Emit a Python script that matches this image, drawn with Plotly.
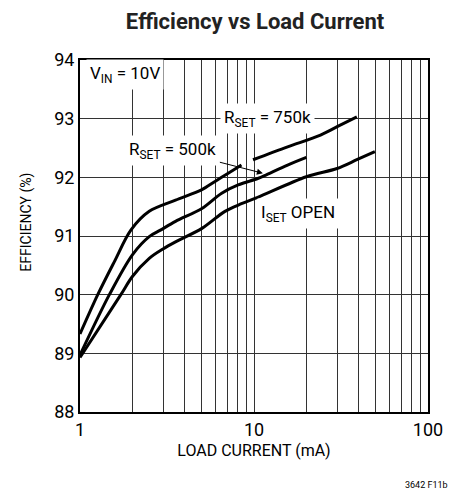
import plotly.graph_objects as go

# load current (mA) and efficiency (%)
rset_750k_x = [1, 1.265, 1.574, 1.96, 2.5, 3.54, 5.02, 5.97, 7.11, 8.47, None, 9.87, 15.6, 24.1, 31.3, 39]
rset_750k_y = [89.33, 90.0, 90.56, 91.1, 91.42, 91.61, 91.79, 91.93, 92.07, 92.21, None, 92.3, 92.52, 92.72, 92.89, 93.03]

rset_500k_x = [1, 1.475, 2.0, 2.5, 2.9, 3.54, 5.02, 6.52, 8.11, 10.5, 11.5, 15.6, 20]
rset_500k_y = [88.97, 90.0, 90.68, 90.99, 91.1, 91.25, 91.47, 91.73, 91.87, 91.98, 92.03, 92.21, 92.34]

iset_open_x = [1, 1.717, 2.0, 2.5, 3.0, 3.54, 5.02, 6.81, 8.47, 10.5, 20, 30, 39, 49.5]
iset_open_y = [88.93, 90.0, 90.31, 90.62, 90.78, 90.9, 91.13, 91.42, 91.55, 91.66, 92.01, 92.15, 92.3, 92.44]

x_ticks = [1, 10, 100]
x_minor_grid = [2, 3, 4, 5, 6, 7, 8, 9, 20, 30, 40, 50, 60, 70, 80, 90]
y_ticks = [88, 89, 90, 91, 92, 93, 94]

FONT = "Roboto, Liberation Sans, Arial, sans-serif"

fig = go.Figure()
for xs, ys in [(rset_750k_x, rset_750k_y), (rset_500k_x, rset_500k_y), (iset_open_x, iset_open_y)]:
    fig.add_trace(go.Scatter(
        x=xs, y=ys, mode="lines",
        line=dict(color="black", width=3, shape="spline", smoothing=0.9),
        connectgaps=False, showlegend=False, hoverinfo="skip",
    ))

fig.update_layout(
    width=455, height=491,
    margin=dict(l=80, r=23, t=60, b=79),
    paper_bgcolor="white", plot_bgcolor="white",
    font=dict(family=FONT, color="black", size=16),
    title=dict(
        text="<b>Efficiency vs Load Current</b>",
        x=255 / 455, xanchor="center", y=1 - 21 / 491, yanchor="middle",
        font=dict(size=22, family=FONT, color="#222"),
    ),
)
fig.update_xaxes(
    type="log", range=[0, 2],
    tickvals=x_ticks, ticktext=[str(v) for v in x_ticks], ticks="",
    showgrid=True, gridcolor="#333", gridwidth=1,
    minor=dict(tickvals=x_minor_grid, showgrid=True, gridcolor="#333", gridwidth=1, ticks=""),
    showline=True, linecolor="black", linewidth=2, mirror=True,
    tickfont=dict(size=18), zeroline=False,
    title=dict(text="LOAD CURRENT (mA)", font=dict(size=16), standoff=6),
)
fig.update_yaxes(
    range=[88, 94], tickvals=y_ticks, ticks="",
    showgrid=True, gridcolor="#333", gridwidth=1,
    showline=True, linecolor="black", linewidth=2, mirror=True,
    tickfont=dict(size=18), zeroline=False,
)

# y title placed by hand: it sits a little above the plot centre in the original
fig.add_annotation(
    x=(25 - 80) / 352, y=(412 - 222) / 352, xref="paper", yref="paper",
    text="EFFICIENCY (%)", textangle=-90, showarrow=False,
    xanchor="center", yanchor="middle", font=dict(size=14, family=FONT, color="black"),
)

label_font = dict(size=17, family=FONT, color="black")
fig.add_annotation(
    x=0.261, y=93.75, xref="x", yref="y", showarrow=False,
    text="V<sub>IN</sub> = 10V", bgcolor="white", borderpad=3, font=label_font,
)
fig.add_annotation(
    x=1.075, y=93.0, xref="x", yref="y", showarrow=False,
    text="R<sub>SET</sub> = 750k", bgcolor="white", borderpad=3, font=label_font,
)
fig.add_annotation(
    x=1.051, y=92.07, xref="x", yref="y",
    ax=-90, ay=-23, showarrow=True,
    arrowhead=2, arrowsize=1.2, arrowwidth=1, arrowcolor="black",
    text="R<sub>SET</sub> = 500k", bgcolor="white", borderpad=3, font=label_font,
)
fig.add_annotation(
    x=1.25, y=91.38, xref="x", yref="y", showarrow=False,
    text="I<sub>SET</sub> OPEN", bgcolor="white", borderpad=3, font=label_font,
)
fig.add_annotation(
    x=(430 - 80) / 352, y=(412 - 485) / 352, xref="paper", yref="paper",
    text="3642 F11b", showarrow=False, xanchor="center", yanchor="middle",
    font=dict(size=9, family=FONT, color="black"),
)

# the page's default body margin would shift the figure by 8px
fig.write_html(
    "out.html",
    config={"displayModeBar": False},
    post_script="document.body.style.margin='0';",
)
